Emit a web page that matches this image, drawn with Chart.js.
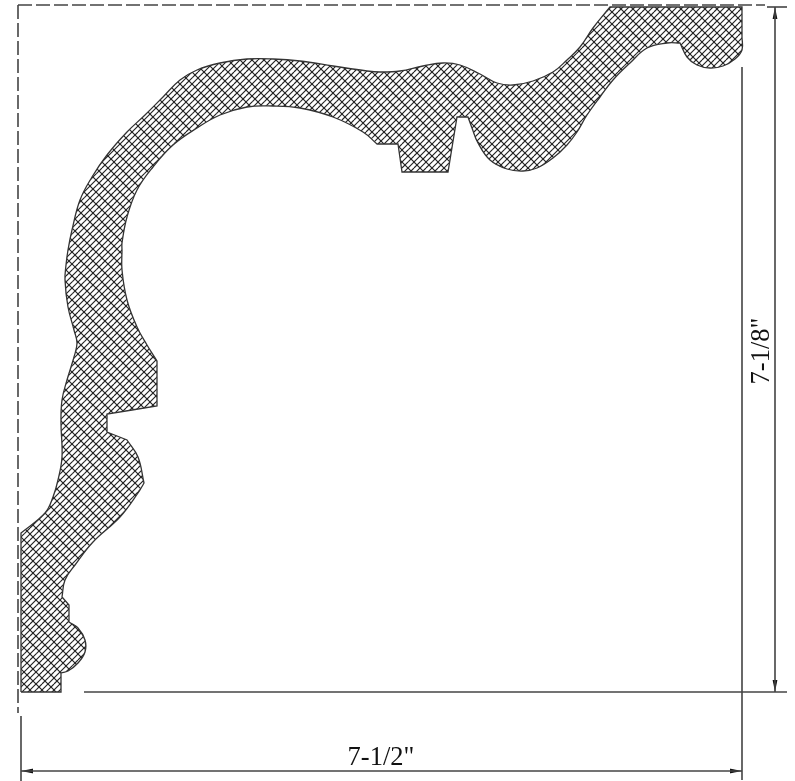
<!DOCTYPE html>
<html>
<head>
<meta charset="utf-8">
<title>Crown moulding profile</title>
<style>
  html, body { margin: 0; padding: 0; background: #fff; }
  canvas { display: block; filter: blur(0.4px); }
</style>
<script src="https://cdn.jsdelivr.net/npm/chart.js@4"></script>
</head>
<body>
<canvas id="profile" width="795" height="781"></canvas>
<script>
// profile outline, clockwise from the bottom left corner, in picture units
// a point listed twice is a sharp corner, the spline stays smooth everywhere else
const outlineX = [21, 21, 21, 45, 53, 58, 62, 61, 62, 67, 74, 77, 74, 68, 65, 66, 68, 72, 80, 92, 107, 127, 145, 163, 180, 197, 220, 247, 273, 300, 333, 367, 380, 400, 423, 443, 460, 480, 497, 513, 533, 553, 567, 580, 593, 610, 610, 742, 742, 742, 742, 735, 723, 710, 697, 687, 680, 680, 667, 647, 630, 613, 600, 587, 577, 567, 553, 537, 523, 507, 490, 478, 472, 468, 468, 457, 457, 448, 448, 402, 402, 398, 398, 377, 377, 363, 333, 300, 273, 247, 220, 197, 173, 153, 137, 127, 122, 122, 122, 127, 137, 147, 157, 157, 157, 157, 107, 107, 107, 107, 127, 127, 138, 144, 144, 138, 120, 93, 75, 65, 62, 62, 69, 69, 69, 69, 78, 85, 85, 78, 68, 61, 61, 61, 61, 21, 21];
const outlineY = [692, 533, 533, 513, 497, 480, 457, 423, 400, 380, 357, 343, 330, 307, 280, 265, 250, 230, 200, 177, 155, 132, 115, 97, 80, 70, 63, 59, 59, 61, 66, 71, 72, 71, 66, 63, 65, 74, 83, 85, 81, 72, 60, 47, 28, 7, 7, 7, 7, 37, 50, 59, 66, 68, 65, 57, 43, 43, 43, 48, 63, 80, 97, 115, 132, 145, 158, 168, 171, 169, 160, 143, 128, 117, 117, 117, 117, 172, 172, 172, 172, 144, 144, 144, 144, 132, 117, 108, 106, 107, 115, 128, 145, 167, 190, 217, 243, 250, 270, 300, 327, 345, 361, 361, 406, 406, 414, 414, 432, 432, 440, 440, 457, 483, 483, 493, 517, 542, 565, 580, 597, 597, 605, 605, 622, 622, 628, 640, 652, 663, 671, 673, 673, 692, 692, 692, 692];

// dashed stock lines and solid dimension lines, [x1, y1, x2, y2]
const stockLines = [[18, 5, 765, 5], [18, 5, 18, 713]];
const extensionLines = [[767, 7, 787, 7], [84, 692, 787, 692], [742, 67, 742, 780], [21, 716, 21, 781]];
const dimensionLines = [[775, 7, 775, 692], [21, 771, 742, 771]];

// where the arrow heads sit on the dimension lines and which way they point
const arrowX = [775, 775, 27, 736];
const arrowY = [13, 686, 771, 771];
const arrowTurn = [0, 180, 270, 90];

const dimensionLabels = ['7-1/2"', '7-1/8"'];

function hatchTile() {
  const size = 12;
  const tile = document.createElement('canvas');
  tile.width = tile.height = size;
  const c = tile.getContext('2d');
  c.strokeStyle = '#222';
  c.lineWidth = 1.15;
  // one way the lines run wide apart, the other way they are twice as close
  for (let k = -size; k <= size * 2; k += size) {
    c.beginPath(); c.moveTo(k, 0); c.lineTo(k + size, size); c.stroke();
  }
  for (let k = -size; k <= size * 2; k += size / 2) {
    c.beginPath(); c.moveTo(k + size, 0); c.lineTo(k, size); c.stroke();
  }
  return tile;
}

function arrowHead() {
  const head = document.createElement('canvas');
  head.width = 6; head.height = 12;
  const c = head.getContext('2d');
  c.fillStyle = '#111';
  c.beginPath(); c.moveTo(3, 0); c.lineTo(5.4, 12); c.lineTo(0.6, 12); c.closePath(); c.fill();
  return head;
}

const lineSet = (l, color, width, dash) => ({
  data: [{x: l[0], y: l[1]}, {x: l[2], y: l[3]}],
  borderColor: color, borderWidth: width, borderDash: dash || [], pointRadius: 0
});

const profileFill = {
  id: 'profileFill',
  beforeDatasetsDraw(chart) {
    const ctx = chart.ctx;
    ctx.save();
    ctx.beginPath();
    chart.getDatasetMeta(0).dataset.path(ctx);
    ctx.closePath();
    ctx.fillStyle = ctx.createPattern(hatchTile(), 'repeat');
    ctx.fill();
    ctx.restore();
  }
};

const dimensionText = {
  id: 'dimensionText',
  afterDatasetsDraw(chart) {
    const {ctx, scales: {x, y}} = chart;
    ctx.save();
    ctx.fillStyle = '#111';
    ctx.font = '26.5px "Liberation Serif"';
    ctx.textAlign = 'center';
    ctx.textBaseline = 'alphabetic';
    ctx.fillText(dimensionLabels[0], x.getPixelForValue(381), y.getPixelForValue(765));
    ctx.translate(x.getPixelForValue(769), y.getPixelForValue(351));
    ctx.rotate(-Math.PI / 2);
    ctx.fillText(dimensionLabels[1], 0, 0);
    ctx.restore();
  }
};

const ctx = document.getElementById('profile').getContext('2d');
const profileChart = new Chart(ctx, {
  type: 'scatter',
  data: {
    datasets: [
      {
        data: outlineX.map((v, i) => ({x: v, y: outlineY[i]})),
        borderColor: '#333', borderWidth: 1.3, pointRadius: 0, tension: 0.4
      },
      ...stockLines.map(l => lineSet(l, '#444', 1.6, [14, 4])),
      ...extensionLines.map(l => lineSet(l, '#444', 1.6)),
      ...dimensionLines.map(l => lineSet(l, '#444', 1.6)),
      {
        data: arrowX.map((v, i) => ({x: v, y: arrowY[i]})),
        showLine: false,
        pointStyle: arrowHead(),
        pointRotation: arrowTurn,
        pointRadius: 6
      }
    ]
  },
  options: {
    responsive: false,
    animation: false,
    devicePixelRatio: 1,
    showLine: true,
    layout: { padding: 0, autoPadding: false },
    plugins: { legend: { display: false }, tooltip: { enabled: false } },
    scales: {
      x: { display: false, type: 'linear', min: 0, max: 795 },
      y: { display: false, type: 'linear', min: 0, max: 781, reverse: true }
    }
  },
  plugins: [profileFill, dimensionText]
});
</script>
</body>
</html>
